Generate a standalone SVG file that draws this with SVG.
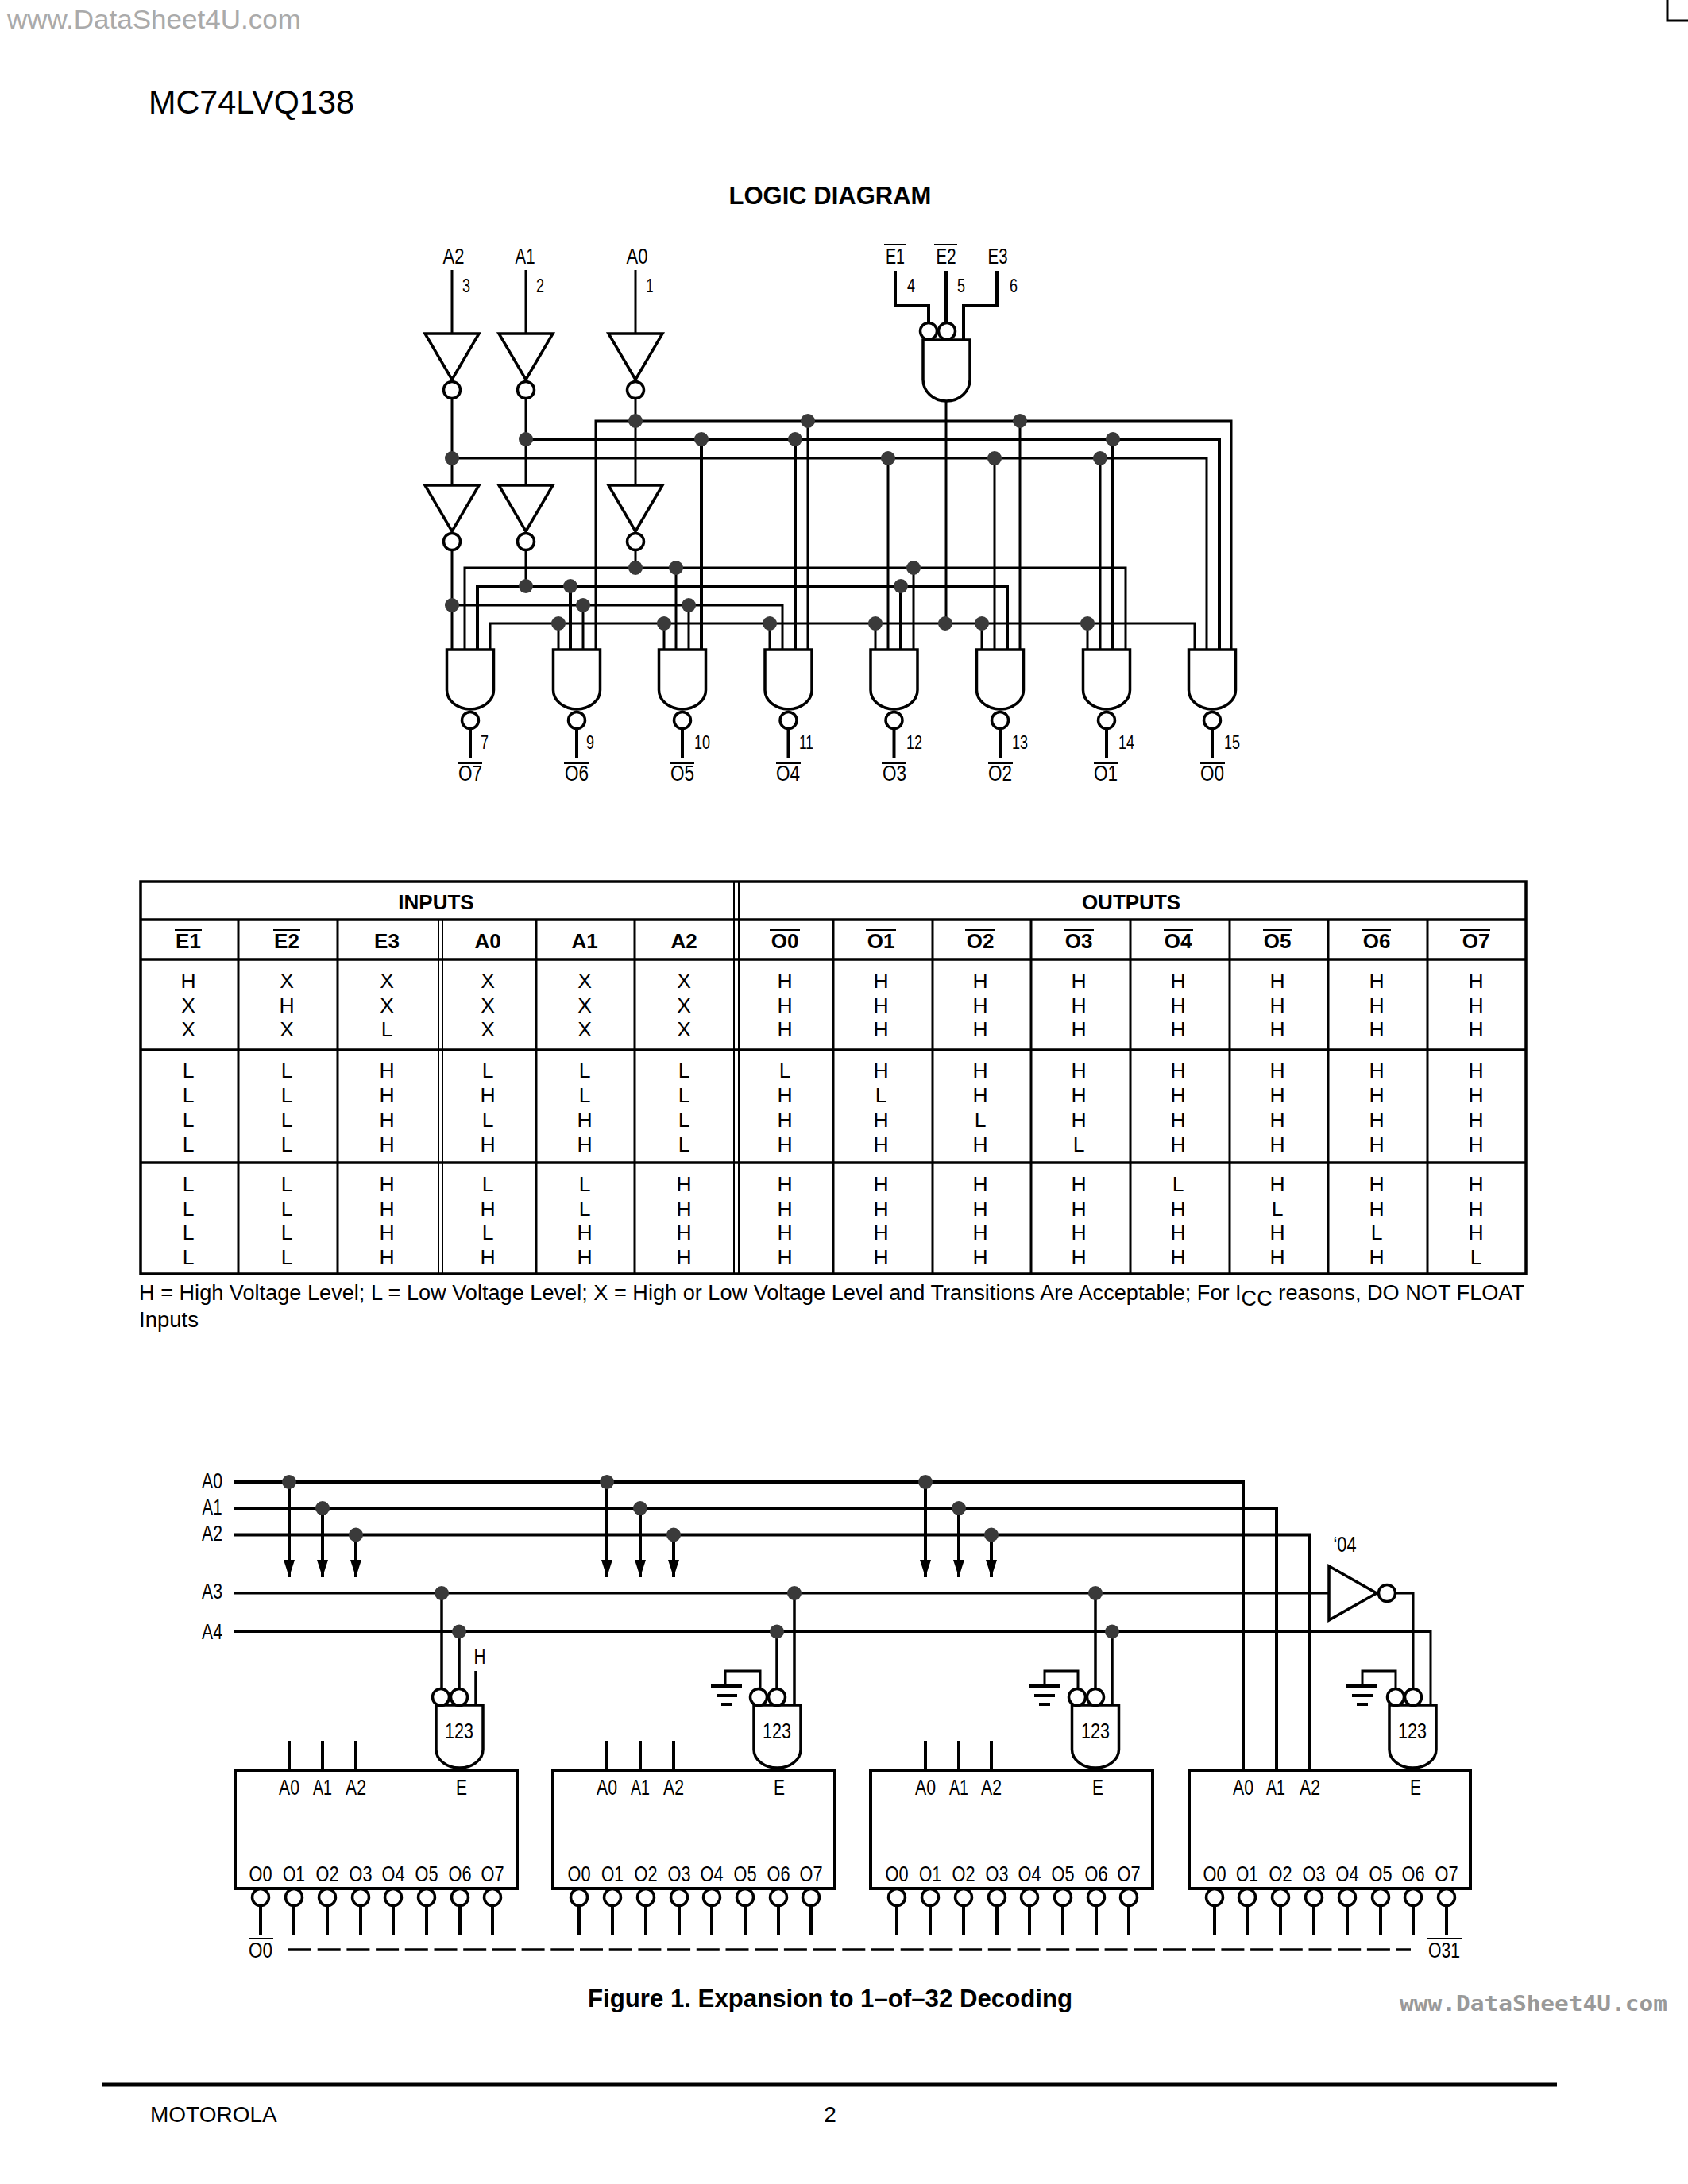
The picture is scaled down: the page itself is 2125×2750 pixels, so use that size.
<svg xmlns="http://www.w3.org/2000/svg" width="2125" height="2750" viewBox="0 0 2125 2750">
<style>
text{font-family:"Liberation Sans",Arial,sans-serif;fill:#000}
.w{fill:none;stroke:#000;stroke-width:3}
.t{stroke-width:4}
.sh{fill:#fff;stroke:#000;stroke-width:3.5}
.ob{fill:none;stroke:#000;stroke-width:2}
.d{fill:#3a3a3a}
.l{font-size:27px;text-anchor:middle}
.n{font-size:24px;text-anchor:middle}
.c{font-size:26.500px;text-anchor:middle}
.b{font-size:26px;font-weight:bold;text-anchor:middle}
</style>
<defs>
<g id="inv"><path class="sh" d="M-34,-71H34L0,-13Z"/><circle class="sh" r="10.500"/></g>
<g id="nand"><path class="sh" d="M-29.5,-89H29.5V-38A29.5,24 0 0 1 -29.5,-38Z"/><circle class="sh" r="10.500"/><path class="w t" d="M0,11V48"/></g>
<g id="and"><path class="sh" d="M-29.5,0H29.5V56A29.5,23 0 0 1 -29.5,56Z"/></g>
<g id="pin"><circle class="sh" r="10.500"/><path class="w t" d="M0,11V47"/></g>
<g id="gnd"><path class="w t" d="M0,0H39M7,12H33M13,23H27"/></g>
<marker id="arrow" markerUnits="userSpaceOnUse" markerWidth="22" markerHeight="14" refX="22" refY="7" orient="auto" viewBox="0 0 22 14"><path d="M0,0L22,7L0,14Z" fill="#000"/></marker>
</defs>
<rect width="2125" height="2750" fill="#fff"/>

<g id="page">
<text x="9" y="36" font-size="34" style="fill:#aaa" textLength="370" lengthAdjust="spacingAndGlyphs">www.DataSheet4U.com</text>
<path class="w" d="M2099,0V26H2125"/>
<text x="187" y="143" font-size="42" textLength="259" lengthAdjust="spacingAndGlyphs">MC74LVQ138</text>
<text x="1045" y="257" font-size="31" font-weight="bold" text-anchor="middle">LOGIC DIAGRAM</text>
<text x="1045" y="2527" font-size="31.200" font-weight="bold" text-anchor="middle">Figure 1. Expansion to 1–of–32 Decoding</text>
<text x="1762" y="2532" font-size="26" font-weight="bold" style="font-family:'DejaVu Sans Mono',monospace;fill:#999" textLength="337" lengthAdjust="spacingAndGlyphs">www.DataSheet4U.com</text>
<path d="M128,2625H1960" stroke="#000" stroke-width="5"/>
<text x="189" y="2672" font-size="28">MOTOROLA</text>
<text x="1045" y="2672" font-size="28" text-anchor="middle">2</text>
</g>

<g id="logic-connectors">
<path class="w" d="M569,340V420M569,491V610M569,682V818M662,340V420M662,491V610M662,682V738M800,340V420M800,491V610M800,682V715"/>
<path class="w t" d="M1127,341V385H1169V407M1191,341V407M1255,341V385H1213V428"/>
<path class="w" d="M1191,505V785"/>
<path class="w" d="M750,818V530H1550V818M1017,530V818M1284,530V818"/>
<path class="w t" d="M662,553H1535V818M883,553V818M1001,553V818M1401,553V818"/>
<path class="w" d="M569,577H1519V818M1118,577V818M1252,577V818M1385,577V818"/>
<path class="w" d="M585,818V715H1417V818M851,715V818M1150,715V818"/>
<path class="w t" d="M601,818V738H1268V818M718,738V818M1134,738V818"/>
<path class="w" d="M569,762H985V818M734,762V818M867,762V818"/>
<path class="w" d="M617,818V785H1504V818M703,785V818M836,785V818M969,785V818M1102,785V818M1236,785V818M1369,785V818"/>
<g class="d">
<circle cx="800" cy="530" r="9"/><circle cx="1017" cy="530" r="9"/><circle cx="1284" cy="530" r="9"/>
<circle cx="662" cy="553" r="9"/><circle cx="883" cy="553" r="9"/><circle cx="1001" cy="553" r="9"/><circle cx="1401" cy="553" r="9"/>
<circle cx="569" cy="577" r="9"/><circle cx="1118" cy="577" r="9"/><circle cx="1252" cy="577" r="9"/><circle cx="1385" cy="577" r="9"/>
<circle cx="800" cy="715" r="9"/><circle cx="851" cy="715" r="9"/><circle cx="1150" cy="715" r="9"/>
<circle cx="662" cy="738" r="9"/><circle cx="718" cy="738" r="9"/><circle cx="1134" cy="738" r="9"/>
<circle cx="569" cy="762" r="9"/><circle cx="734" cy="762" r="9"/><circle cx="867" cy="762" r="9"/>
<circle cx="703" cy="785" r="9"/><circle cx="836" cy="785" r="9"/><circle cx="969" cy="785" r="9"/><circle cx="1102" cy="785" r="9"/><circle cx="1190" cy="785" r="9"/><circle cx="1236" cy="785" r="9"/><circle cx="1369" cy="785" r="9"/>
</g>
</g>

<g id="logic-inputs">
<text class="l" x="571" y="332" textLength="27" lengthAdjust="spacingAndGlyphs">A2</text><text class="n" x="587" y="368" textLength="10" lengthAdjust="spacingAndGlyphs">3</text>
<text class="l" x="661" y="332" textLength="25" lengthAdjust="spacingAndGlyphs">A1</text><text class="n" x="680" y="368" textLength="10" lengthAdjust="spacingAndGlyphs">2</text>
<text class="l" x="802" y="332" textLength="27" lengthAdjust="spacingAndGlyphs">A0</text><text class="n" x="818" y="368" textLength="9" lengthAdjust="spacingAndGlyphs">1</text>
<text class="l" x="1127" y="332" textLength="24" lengthAdjust="spacingAndGlyphs">E1</text><path class="ob" d="M1113,308H1141"/><text class="n" x="1147" y="368" textLength="10" lengthAdjust="spacingAndGlyphs">4</text>
<text class="l" x="1191" y="332" textLength="25" lengthAdjust="spacingAndGlyphs">E2</text><path class="ob" d="M1176,308H1205"/><text class="n" x="1210" y="368" textLength="10" lengthAdjust="spacingAndGlyphs">5</text>
<text class="l" x="1256" y="332" textLength="25" lengthAdjust="spacingAndGlyphs">E3</text><text class="n" x="1276" y="368" textLength="10" lengthAdjust="spacingAndGlyphs">6</text>
</g>
<g id="inv-a2-1"><use href="#inv" x="569" y="491"/></g>
<g id="inv-a1-1"><use href="#inv" x="662" y="491"/></g>
<g id="inv-a0-1"><use href="#inv" x="800" y="491"/></g>
<g id="inv-a2-2"><use href="#inv" x="569" y="682"/></g>
<g id="inv-a1-2"><use href="#inv" x="662" y="682"/></g>
<g id="inv-a0-2"><use href="#inv" x="800" y="682"/></g>
<g id="enable-gate"><path class="sh" d="M1162,428H1221V478A29.5,27 0 0 1 1162,478Z"/><circle class="sh" cx="1169" cy="417" r="10.500"/><circle class="sh" cx="1192" cy="417" r="10.500"/></g>

<g id="gate-o7"><use href="#nand" x="592" y="907"/><text class="n" x="610" y="943" textLength="10" lengthAdjust="spacingAndGlyphs">7</text><path class="ob" d="M576,961H607"/><text class="l" x="592" y="983" textLength="30" lengthAdjust="spacingAndGlyphs">O7</text></g>
<g id="gate-o6"><use href="#nand" x="726" y="907"/><text class="n" x="743" y="943" textLength="10" lengthAdjust="spacingAndGlyphs">9</text><path class="ob" d="M710,961H741"/><text class="l" x="726" y="983" textLength="30" lengthAdjust="spacingAndGlyphs">O6</text></g>
<g id="gate-o5"><use href="#nand" x="859" y="907"/><text class="n" x="884" y="943" textLength="20" lengthAdjust="spacingAndGlyphs">10</text><path class="ob" d="M843,961H874"/><text class="l" x="859" y="983" textLength="30" lengthAdjust="spacingAndGlyphs">O5</text></g>
<g id="gate-o4"><use href="#nand" x="992.500" y="907"/><text class="n" x="1015" y="943" textLength="18" lengthAdjust="spacingAndGlyphs">11</text><path class="ob" d="M977,961H1008"/><text class="l" x="992" y="983" textLength="30" lengthAdjust="spacingAndGlyphs">O4</text></g>
<g id="gate-o3"><use href="#nand" x="1125.500" y="907"/><text class="n" x="1151" y="943" textLength="20" lengthAdjust="spacingAndGlyphs">12</text><path class="ob" d="M1110,961H1141"/><text class="l" x="1126" y="983" textLength="30" lengthAdjust="spacingAndGlyphs">O3</text></g>
<g id="gate-o2"><use href="#nand" x="1259" y="907"/><text class="n" x="1284" y="943" textLength="20" lengthAdjust="spacingAndGlyphs">13</text><path class="ob" d="M1244,961H1275"/><text class="l" x="1259" y="983" textLength="30" lengthAdjust="spacingAndGlyphs">O2</text></g>
<g id="gate-o1"><use href="#nand" x="1393" y="907"/><text class="n" x="1418" y="943" textLength="20" lengthAdjust="spacingAndGlyphs">14</text><path class="ob" d="M1377,961H1408"/><text class="l" x="1392" y="983" textLength="30" lengthAdjust="spacingAndGlyphs">O1</text></g>
<g id="gate-o0"><use href="#nand" x="1526" y="907"/><text class="n" x="1551" y="943" textLength="20" lengthAdjust="spacingAndGlyphs">15</text><path class="ob" d="M1511,961H1542"/><text class="l" x="1526" y="983" textLength="30" lengthAdjust="spacingAndGlyphs">O0</text></g>

<g id="truth-table">
<path class="w" style="stroke-width:3.5" d="M177,1110H1921V1604H177ZM177,1158H1921M177,1208H1921M177,1322H1921M177,1464H1921"/>
<path class="w" d="M300,1158V1604M425,1158V1604M675,1158V1604M799,1158V1604M1049,1158V1604M1174,1158V1604M1298,1158V1604M1423,1158V1604M1548,1158V1604M1672,1158V1604M1797,1158V1604"/>
<path class="w" style="stroke-width:2" d="M552,1158V1604M557,1158V1604M924,1110V1604M930,1110V1604"/>
<text class="b" x="549" y="1145">INPUTS</text><text class="b" x="1424" y="1145">OUTPUTS</text>
<path class="ob" d="M220,1171H254M344,1171H378M969,1171H1007M1090,1171H1128M1215,1171H1253M1339,1171H1377M1465,1171H1502M1590,1171H1627M1714,1171H1751M1838,1171H1876"/>
<g transform="translate(0,1194)" class="hdr"><text class="b" x="237">E1</text><text class="b" x="361">E2</text><text class="b" x="487">E3</text><text class="b" x="614">A0</text><text class="b" x="736">A1</text><text class="b" x="861">A2</text><text class="b" x="988">O0</text><text class="b" x="1109">O1</text><text class="b" x="1234">O2</text><text class="b" x="1358">O3</text><text class="b" x="1483">O4</text><text class="b" x="1608">O5</text><text class="b" x="1733">O6</text><text class="b" x="1858">O7</text></g>
<g transform="translate(0,1244)"><text class="c" x="237">H</text><text class="c" x="361">X</text><text class="c" x="487">X</text><text class="c" x="614">X</text><text class="c" x="736">X</text><text class="c" x="861">X</text><text class="c" x="988">H</text><text class="c" x="1109">H</text><text class="c" x="1234">H</text><text class="c" x="1358">H</text><text class="c" x="1483">H</text><text class="c" x="1608">H</text><text class="c" x="1733">H</text><text class="c" x="1858">H</text></g>
<g transform="translate(0,1275)"><text class="c" x="237">X</text><text class="c" x="361">H</text><text class="c" x="487">X</text><text class="c" x="614">X</text><text class="c" x="736">X</text><text class="c" x="861">X</text><text class="c" x="988">H</text><text class="c" x="1109">H</text><text class="c" x="1234">H</text><text class="c" x="1358">H</text><text class="c" x="1483">H</text><text class="c" x="1608">H</text><text class="c" x="1733">H</text><text class="c" x="1858">H</text></g>
<g transform="translate(0,1305)"><text class="c" x="237">X</text><text class="c" x="361">X</text><text class="c" x="487">L</text><text class="c" x="614">X</text><text class="c" x="736">X</text><text class="c" x="861">X</text><text class="c" x="988">H</text><text class="c" x="1109">H</text><text class="c" x="1234">H</text><text class="c" x="1358">H</text><text class="c" x="1483">H</text><text class="c" x="1608">H</text><text class="c" x="1733">H</text><text class="c" x="1858">H</text></g>
<g transform="translate(0,1357)"><text class="c" x="237">L</text><text class="c" x="361">L</text><text class="c" x="487">H</text><text class="c" x="614">L</text><text class="c" x="736">L</text><text class="c" x="861">L</text><text class="c" x="988">L</text><text class="c" x="1109">H</text><text class="c" x="1234">H</text><text class="c" x="1358">H</text><text class="c" x="1483">H</text><text class="c" x="1608">H</text><text class="c" x="1733">H</text><text class="c" x="1858">H</text></g>
<g transform="translate(0,1388)"><text class="c" x="237">L</text><text class="c" x="361">L</text><text class="c" x="487">H</text><text class="c" x="614">H</text><text class="c" x="736">L</text><text class="c" x="861">L</text><text class="c" x="988">H</text><text class="c" x="1109">L</text><text class="c" x="1234">H</text><text class="c" x="1358">H</text><text class="c" x="1483">H</text><text class="c" x="1608">H</text><text class="c" x="1733">H</text><text class="c" x="1858">H</text></g>
<g transform="translate(0,1419)"><text class="c" x="237">L</text><text class="c" x="361">L</text><text class="c" x="487">H</text><text class="c" x="614">L</text><text class="c" x="736">H</text><text class="c" x="861">L</text><text class="c" x="988">H</text><text class="c" x="1109">H</text><text class="c" x="1234">L</text><text class="c" x="1358">H</text><text class="c" x="1483">H</text><text class="c" x="1608">H</text><text class="c" x="1733">H</text><text class="c" x="1858">H</text></g>
<g transform="translate(0,1450)"><text class="c" x="237">L</text><text class="c" x="361">L</text><text class="c" x="487">H</text><text class="c" x="614">H</text><text class="c" x="736">H</text><text class="c" x="861">L</text><text class="c" x="988">H</text><text class="c" x="1109">H</text><text class="c" x="1234">H</text><text class="c" x="1358">L</text><text class="c" x="1483">H</text><text class="c" x="1608">H</text><text class="c" x="1733">H</text><text class="c" x="1858">H</text></g>
<g transform="translate(0,1500)"><text class="c" x="237">L</text><text class="c" x="361">L</text><text class="c" x="487">H</text><text class="c" x="614">L</text><text class="c" x="736">L</text><text class="c" x="861">H</text><text class="c" x="988">H</text><text class="c" x="1109">H</text><text class="c" x="1234">H</text><text class="c" x="1358">H</text><text class="c" x="1483">L</text><text class="c" x="1608">H</text><text class="c" x="1733">H</text><text class="c" x="1858">H</text></g>
<g transform="translate(0,1531)"><text class="c" x="237">L</text><text class="c" x="361">L</text><text class="c" x="487">H</text><text class="c" x="614">H</text><text class="c" x="736">L</text><text class="c" x="861">H</text><text class="c" x="988">H</text><text class="c" x="1109">H</text><text class="c" x="1234">H</text><text class="c" x="1358">H</text><text class="c" x="1483">H</text><text class="c" x="1608">L</text><text class="c" x="1733">H</text><text class="c" x="1858">H</text></g>
<g transform="translate(0,1561)"><text class="c" x="237">L</text><text class="c" x="361">L</text><text class="c" x="487">H</text><text class="c" x="614">L</text><text class="c" x="736">H</text><text class="c" x="861">H</text><text class="c" x="988">H</text><text class="c" x="1109">H</text><text class="c" x="1234">H</text><text class="c" x="1358">H</text><text class="c" x="1483">H</text><text class="c" x="1608">H</text><text class="c" x="1733">L</text><text class="c" x="1858">H</text></g>
<g transform="translate(0,1592)"><text class="c" x="237">L</text><text class="c" x="361">L</text><text class="c" x="487">H</text><text class="c" x="614">H</text><text class="c" x="736">H</text><text class="c" x="861">H</text><text class="c" x="988">H</text><text class="c" x="1109">H</text><text class="c" x="1234">H</text><text class="c" x="1358">H</text><text class="c" x="1483">H</text><text class="c" x="1608">H</text><text class="c" x="1733">H</text><text class="c" x="1858">L</text></g>
<text x="175" y="1637" font-size="27" textLength="1744" lengthAdjust="spacingAndGlyphs">H = High Voltage Level; L = Low Voltage Level; X = High or Low Voltage Level and Transitions Are Acceptable; For I<tspan dy="7">CC</tspan><tspan dy="-7"> reasons, DO NOT FLOAT</tspan></text>
<text x="175" y="1671" font-size="27" textLength="75" lengthAdjust="spacingAndGlyphs">Inputs</text>
</g>

<g id="expansion-connectors">
<path class="w t" d="M295,1866H1565V2229M295,1899H1607V2229M295,1932.500H1648V2229"/>
<path class="w" d="M295,2006H1673M1746,2006H1779V2127M295,2054.500H1801V2147"/>
<path class="w t" marker-end="url(#arrow)" d="M364,1866V1986"/><path class="w t" marker-end="url(#arrow)" d="M406,1899V1986"/><path class="w t" marker-end="url(#arrow)" d="M448,1932V1986"/>
<path class="w t" marker-end="url(#arrow)" d="M764,1866V1986"/><path class="w t" marker-end="url(#arrow)" d="M806,1899V1986"/><path class="w t" marker-end="url(#arrow)" d="M848,1932V1986"/>
<path class="w t" marker-end="url(#arrow)" d="M1165,1866V1986"/><path class="w t" marker-end="url(#arrow)" d="M1207,1899V1986"/><path class="w t" marker-end="url(#arrow)" d="M1248,1932V1986"/>
<path class="w t" d="M364,2192V2229M406,2192V2229M448,2192V2229M764,2192V2229M806,2192V2229M848,2192V2229M1165,2192V2229M1207,2192V2229M1248,2192V2229"/>
<path class="w" style="stroke-width:3.500" d="M556,2006V2127M578,2054V2127M599,2104V2147M978,2054V2127M1000,2006V2147M1379,2006V2127M1400,2054V2147"/>
<path class="w" d="M913,2123V2104H957V2127M1315,2123V2104H1357V2127M1715,2123V2104H1757V2127"/>
<path d="M363,2454.500H1776" stroke="#000" stroke-width="2.500" stroke-dasharray="29 7.700" fill="none"/>
<g class="d">
<circle cx="364" cy="1866" r="9"/><circle cx="406" cy="1899" r="9"/><circle cx="448" cy="1932.500" r="9"/>
<circle cx="764" cy="1866" r="9"/><circle cx="806" cy="1899" r="9"/><circle cx="848" cy="1932.500" r="9"/>
<circle cx="1165" cy="1866" r="9"/><circle cx="1207" cy="1899" r="9"/><circle cx="1248" cy="1932.500" r="9"/>
<circle cx="556" cy="2006" r="9"/><circle cx="1000" cy="2006" r="9"/><circle cx="1379" cy="2006" r="9"/>
<circle cx="578" cy="2054.500" r="9"/><circle cx="978" cy="2054.500" r="9"/><circle cx="1400" cy="2054.500" r="9"/>
</g>
</g>

<g id="bus-labels">
<text class="l" x="267" y="1874" textLength="26" lengthAdjust="spacingAndGlyphs">A0</text>
<text class="l" x="267" y="1907" textLength="25" lengthAdjust="spacingAndGlyphs">A1</text>
<text class="l" x="267" y="1940" textLength="26" lengthAdjust="spacingAndGlyphs">A2</text>
<text class="l" x="267" y="2013" textLength="26" lengthAdjust="spacingAndGlyphs">A3</text>
<text class="l" x="267" y="2064" textLength="26" lengthAdjust="spacingAndGlyphs">A4</text>
<path class="ob" d="M313,2441H344"/><text class="l" x="328" y="2465" textLength="30" lengthAdjust="spacingAndGlyphs">O0</text>
<path class="ob" d="M1797,2441H1841"/><text class="l" x="1818" y="2465" textLength="40" lengthAdjust="spacingAndGlyphs">O31</text>
</g>

<g id="inverter-04">
<path class="sh" d="M1673,1972V2040L1733,2006Z"/><circle class="sh" cx="1746" cy="2006" r="10.500"/>
<text class="l" x="1693" y="1954" textLength="29" lengthAdjust="spacingAndGlyphs">‘04</text>
</g>

<g id="h-label"><text class="l" x="604" y="2095" textLength="15" lengthAdjust="spacingAndGlyphs">H</text></g>
<g id="gnd-2"><use href="#gnd" x="895" y="2123"/></g>
<g id="gnd-3"><use href="#gnd" x="1295" y="2123"/></g>
<g id="gnd-4"><use href="#gnd" x="1695" y="2123"/></g>

<g id="decoder-1">
<rect x="296" y="2229" width="355" height="149" class="w t"/>
<use href="#and" x="578.500" y="2147"/><circle class="sh" cx="555" cy="2137" r="10.500"/><circle class="sh" cx="578" cy="2137" r="10.500"/>
<text class="l" x="578" y="2189" textLength="36" lengthAdjust="spacingAndGlyphs">123</text>
<text class="l" x="364" y="2260" textLength="26" lengthAdjust="spacingAndGlyphs">A0</text><text class="l" x="406" y="2260" textLength="24" lengthAdjust="spacingAndGlyphs">A1</text><text class="l" x="448" y="2260" textLength="26" lengthAdjust="spacingAndGlyphs">A2</text><text class="l" x="581" y="2260" textLength="14" lengthAdjust="spacingAndGlyphs">E</text>
<text class="l" x="328" y="2369" textLength="29" lengthAdjust="spacingAndGlyphs">O0</text><text class="l" x="370" y="2369" textLength="28" lengthAdjust="spacingAndGlyphs">O1</text><text class="l" x="412" y="2369" textLength="29" lengthAdjust="spacingAndGlyphs">O2</text><text class="l" x="454" y="2369" textLength="29" lengthAdjust="spacingAndGlyphs">O3</text><text class="l" x="495" y="2369" textLength="29" lengthAdjust="spacingAndGlyphs">O4</text><text class="l" x="537" y="2369" textLength="29" lengthAdjust="spacingAndGlyphs">O5</text><text class="l" x="579" y="2369" textLength="29" lengthAdjust="spacingAndGlyphs">O6</text><text class="l" x="620" y="2369" textLength="29" lengthAdjust="spacingAndGlyphs">O7</text>
<use href="#pin" x="328" y="2389"/><use href="#pin" x="370" y="2389"/><use href="#pin" x="412" y="2389"/><use href="#pin" x="454" y="2389"/><use href="#pin" x="495" y="2389"/><use href="#pin" x="537" y="2389"/><use href="#pin" x="579" y="2389"/><use href="#pin" x="620" y="2389"/>
</g>

<g id="decoder-2">
<rect x="696" y="2229" width="355" height="149" class="w t"/>
<use href="#and" x="978.500" y="2147"/><circle class="sh" cx="955" cy="2137" r="10.500"/><circle class="sh" cx="978" cy="2137" r="10.500"/>
<text class="l" x="978" y="2189" textLength="36" lengthAdjust="spacingAndGlyphs">123</text>
<text class="l" x="764" y="2260" textLength="26" lengthAdjust="spacingAndGlyphs">A0</text><text class="l" x="806" y="2260" textLength="24" lengthAdjust="spacingAndGlyphs">A1</text><text class="l" x="848" y="2260" textLength="26" lengthAdjust="spacingAndGlyphs">A2</text><text class="l" x="981" y="2260" textLength="14" lengthAdjust="spacingAndGlyphs">E</text>
<text class="l" x="729" y="2369" textLength="29" lengthAdjust="spacingAndGlyphs">O0</text><text class="l" x="771" y="2369" textLength="28" lengthAdjust="spacingAndGlyphs">O1</text><text class="l" x="813" y="2369" textLength="29" lengthAdjust="spacingAndGlyphs">O2</text><text class="l" x="855" y="2369" textLength="29" lengthAdjust="spacingAndGlyphs">O3</text><text class="l" x="896" y="2369" textLength="29" lengthAdjust="spacingAndGlyphs">O4</text><text class="l" x="938" y="2369" textLength="29" lengthAdjust="spacingAndGlyphs">O5</text><text class="l" x="980" y="2369" textLength="29" lengthAdjust="spacingAndGlyphs">O6</text><text class="l" x="1021" y="2369" textLength="29" lengthAdjust="spacingAndGlyphs">O7</text>
<use href="#pin" x="729" y="2389"/><use href="#pin" x="771" y="2389"/><use href="#pin" x="813" y="2389"/><use href="#pin" x="855" y="2389"/><use href="#pin" x="896" y="2389"/><use href="#pin" x="938" y="2389"/><use href="#pin" x="980" y="2389"/><use href="#pin" x="1021" y="2389"/>
</g>

<g id="decoder-3">
<rect x="1096" y="2229" width="355" height="149" class="w t"/>
<use href="#and" x="1379" y="2147"/><circle class="sh" cx="1356" cy="2137" r="10.500"/><circle class="sh" cx="1379" cy="2137" r="10.500"/>
<text class="l" x="1379" y="2189" textLength="36" lengthAdjust="spacingAndGlyphs">123</text>
<text class="l" x="1165" y="2260" textLength="26" lengthAdjust="spacingAndGlyphs">A0</text><text class="l" x="1207" y="2260" textLength="24" lengthAdjust="spacingAndGlyphs">A1</text><text class="l" x="1248" y="2260" textLength="26" lengthAdjust="spacingAndGlyphs">A2</text><text class="l" x="1382" y="2260" textLength="14" lengthAdjust="spacingAndGlyphs">E</text>
<text class="l" x="1129" y="2369" textLength="29" lengthAdjust="spacingAndGlyphs">O0</text><text class="l" x="1171" y="2369" textLength="28" lengthAdjust="spacingAndGlyphs">O1</text><text class="l" x="1213" y="2369" textLength="29" lengthAdjust="spacingAndGlyphs">O2</text><text class="l" x="1255" y="2369" textLength="29" lengthAdjust="spacingAndGlyphs">O3</text><text class="l" x="1296" y="2369" textLength="29" lengthAdjust="spacingAndGlyphs">O4</text><text class="l" x="1338" y="2369" textLength="29" lengthAdjust="spacingAndGlyphs">O5</text><text class="l" x="1380" y="2369" textLength="29" lengthAdjust="spacingAndGlyphs">O6</text><text class="l" x="1421" y="2369" textLength="29" lengthAdjust="spacingAndGlyphs">O7</text>
<use href="#pin" x="1129" y="2389"/><use href="#pin" x="1171" y="2389"/><use href="#pin" x="1213" y="2389"/><use href="#pin" x="1255" y="2389"/><use href="#pin" x="1296" y="2389"/><use href="#pin" x="1338" y="2389"/><use href="#pin" x="1380" y="2389"/><use href="#pin" x="1421" y="2389"/>
</g>

<g id="decoder-4">
<rect x="1497" y="2229" width="354" height="149" class="w t"/>
<use href="#and" x="1778.500" y="2147"/><circle class="sh" cx="1757" cy="2137" r="10.500"/><circle class="sh" cx="1779" cy="2137" r="10.500"/>
<text class="l" x="1778" y="2189" textLength="36" lengthAdjust="spacingAndGlyphs">123</text>
<text class="l" x="1565" y="2260" textLength="26" lengthAdjust="spacingAndGlyphs">A0</text><text class="l" x="1606" y="2260" textLength="24" lengthAdjust="spacingAndGlyphs">A1</text><text class="l" x="1649" y="2260" textLength="26" lengthAdjust="spacingAndGlyphs">A2</text><text class="l" x="1782" y="2260" textLength="14" lengthAdjust="spacingAndGlyphs">E</text>
<text class="l" x="1529" y="2369" textLength="29" lengthAdjust="spacingAndGlyphs">O0</text><text class="l" x="1570" y="2369" textLength="28" lengthAdjust="spacingAndGlyphs">O1</text><text class="l" x="1612" y="2369" textLength="29" lengthAdjust="spacingAndGlyphs">O2</text><text class="l" x="1654" y="2369" textLength="29" lengthAdjust="spacingAndGlyphs">O3</text><text class="l" x="1696" y="2369" textLength="29" lengthAdjust="spacingAndGlyphs">O4</text><text class="l" x="1738" y="2369" textLength="29" lengthAdjust="spacingAndGlyphs">O5</text><text class="l" x="1779" y="2369" textLength="29" lengthAdjust="spacingAndGlyphs">O6</text><text class="l" x="1821" y="2369" textLength="29" lengthAdjust="spacingAndGlyphs">O7</text>
<use href="#pin" x="1529" y="2389"/><use href="#pin" x="1570" y="2389"/><use href="#pin" x="1612" y="2389"/><use href="#pin" x="1654" y="2389"/><use href="#pin" x="1696" y="2389"/><use href="#pin" x="1738" y="2389"/><use href="#pin" x="1779" y="2389"/><use href="#pin" x="1821" y="2389"/>
</g>
</svg>
